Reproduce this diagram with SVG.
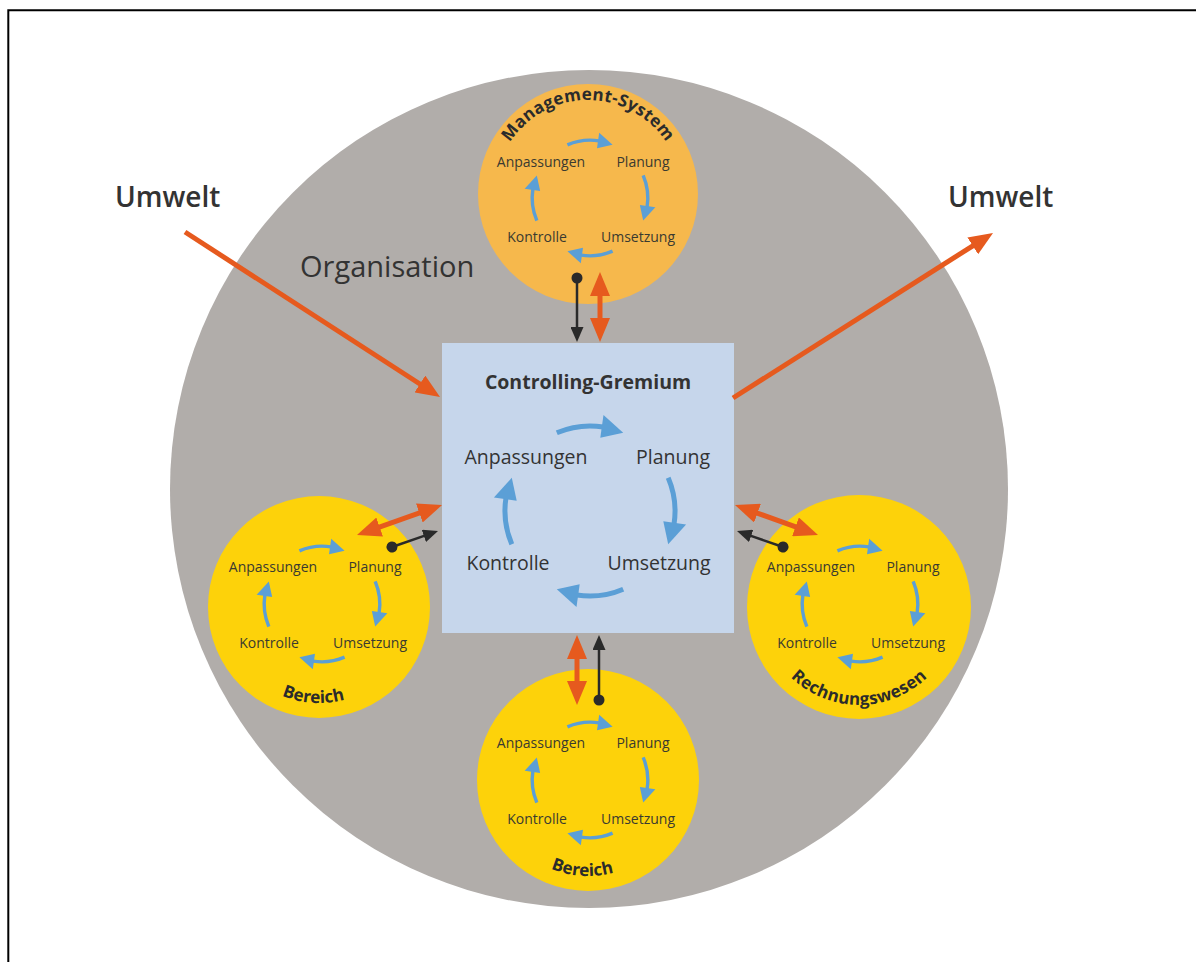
<svg xmlns="http://www.w3.org/2000/svg" xmlns:xlink="http://www.w3.org/1999/xlink" width="1196" height="962" viewBox="0 0 1196 962">
<style>
.t{font-family:"Open Sans","Noto Sans","Liberation Sans",sans-serif;fill:#333;}
.big{font-size:28px;font-weight:600;}
.org{font-size:29px;font-weight:500;}
.lab{font-size:19.5px;text-anchor:middle;}
.sl{font-size:14px;text-anchor:middle;fill:#3a3a30;}
.ttl{font-size:19.5px;font-weight:700;text-anchor:middle;}
.ct{font-size:17px;font-weight:700;text-anchor:middle;fill:#2b2b2b;}
.cl{fill:none;stroke:#5b9fd6;stroke-width:5;}
.ch{fill:#5b9fd6;}
.or{fill:none;stroke:#e65a1e;stroke-width:5;}
.bk{fill:none;stroke:#2a2a2a;stroke-width:2.5;}
</style>
<defs>
<marker id="mo" viewBox="0 0 24 20" markerWidth="24" markerHeight="20" refX="1" refY="10" orient="auto-start-reverse" markerUnits="userSpaceOnUse"><path d="M0,0 L24,10 L0,20 z" fill="#e65a1e"/></marker>
<marker id="mb" viewBox="0 0 15 13" markerWidth="15" markerHeight="13" refX="1" refY="6.5" orient="auto" markerUnits="userSpaceOnUse"><path d="M0,0 L15,6.5 L0,13 z" fill="#2a2a2a"/></marker>
<marker id="md" viewBox="0 0 12 12" markerWidth="12" markerHeight="12" refX="6" refY="6" orient="auto" markerUnits="userSpaceOnUse"><circle cx="6" cy="6" r="5.5" fill="#2a2a2a"/></marker>
<g id="ca"><path class="cl" d="M-33.2,-78.2 A85,85 0 0 1 13.3,-84"/><polygon class="ch" points="10.3,-73.3 33.2,-78.2 13.5,-96.1"/></g>
<g id="cyc"><use xlink:href="#ca"/><use xlink:href="#ca" transform="rotate(90)"/><use xlink:href="#ca" transform="rotate(180)"/><use xlink:href="#ca" transform="rotate(270)"/></g>
<path id="pMS" d="M495,193 A93,93 0 0 1 681,193"/>
<path id="pRW" d="M761,607 A98,98 0 0 0 957,607"/>
<path id="pBL" d="M223,607 A96,96 0 0 0 415,607"/>
<path id="pBB" d="M492,780 A96,96 0 0 0 684,780"/>
</defs>
<rect x="0" y="0" width="1196" height="962" fill="#fff"/>
<path d="M8.3,962 V10.3 H1196" fill="none" stroke="#000" stroke-width="2"/>
<g id="organisation">
<circle cx="589" cy="489" r="419" fill="#b1adaa"/>
<text class="t org" x="300" y="277">Organisation</text>
</g>
<g id="umwelt-left"><text class="t big" x="115" y="207">Umwelt</text></g>
<g id="umwelt-right"><text class="t big" x="948" y="207">Umwelt</text></g>
<g id="management-system">
<circle cx="588" cy="194" r="110" fill="#f6b84c"/>
<text class="t ct" letter-spacing="0.3"><textPath xlink:href="#pMS" startOffset="50%">Management-System</textPath></text>
<use xlink:href="#cyc" transform="translate(590,198) scale(0.68)"/>
<text class="t sl" x="541" y="167">Anpassungen</text>
<text class="t sl" x="643" y="167">Planung</text>
<text class="t sl" x="537" y="242">Kontrolle</text>
<text class="t sl" x="638" y="242">Umsetzung</text>
</g>
<g id="bereich-left">
<circle cx="319" cy="607" r="111" fill="#fdd20a"/>
<use xlink:href="#cyc" transform="translate(322,604) scale(0.68)"/>
<text class="t sl" x="273" y="572">Anpassungen</text>
<text class="t sl" x="375" y="572">Planung</text>
<text class="t sl" x="269" y="648">Kontrolle</text>
<text class="t sl" x="370" y="648">Umsetzung</text>
<text class="t ct"><textPath xlink:href="#pBL" startOffset="48%">Bereich</textPath></text>
</g>
<g id="rechnungswesen">
<circle cx="859" cy="607" r="112" fill="#fdd20a"/>
<use xlink:href="#cyc" transform="translate(860,604) scale(0.68)"/>
<text class="t sl" x="811" y="572">Anpassungen</text>
<text class="t sl" x="913" y="572">Planung</text>
<text class="t sl" x="807" y="648">Kontrolle</text>
<text class="t sl" x="908" y="648">Umsetzung</text>
<text class="t ct" letter-spacing="0.3"><textPath xlink:href="#pRW" startOffset="50%">Rechnungswesen</textPath></text>
</g>
<g id="bereich-bottom">
<circle cx="588" cy="780" r="111" fill="#fdd20a"/>
<use xlink:href="#cyc" transform="translate(590,780) scale(0.68)"/>
<text class="t sl" x="541" y="748">Anpassungen</text>
<text class="t sl" x="643" y="748">Planung</text>
<text class="t sl" x="537" y="824">Kontrolle</text>
<text class="t sl" x="638" y="824">Umsetzung</text>
<text class="t ct"><textPath xlink:href="#pBB" startOffset="48%">Bereich</textPath></text>
</g>
<g id="controlling-gremium">
<rect x="442" y="343" width="292" height="290" fill="#c6d6eb"/>
<text class="t ttl" x="588" y="389">Controlling-Gremium</text>
<use xlink:href="#cyc" transform="translate(590,511)"/>
<text class="t lab" x="526" y="464">Anpassungen</text>
<text class="t lab" x="673" y="464">Planung</text>
<text class="t lab" x="508" y="570">Kontrolle</text>
<text class="t lab" x="659" y="570">Umsetzung</text>
</g>
<g id="connectors">
<path class="or" d="M185,232 L420.7,384.5" marker-end="url(#mo)"/>
<path class="or" d="M733,398 L973.6,245.3" marker-end="url(#mo)"/>
<path class="or" d="M600,295 V319" marker-start="url(#mo)" marker-end="url(#mo)"/>
<path class="bk" d="M577,278 V328" marker-start="url(#md)" marker-end="url(#mb)"/>
<path class="or" d="M577,658 V682" marker-start="url(#mo)" marker-end="url(#mo)"/>
<path class="bk" d="M599,700 V649" marker-start="url(#md)" marker-end="url(#mb)"/>
<path class="or" d="M378.7,527.3 L420.3,512.7" marker-start="url(#mo)" marker-end="url(#mo)"/>
<path class="bk" d="M392,547 L424.8,535.6" marker-start="url(#md)" marker-end="url(#mb)"/>
<path class="or" d="M756.6,512.8 L796.4,527.2" marker-start="url(#mo)" marker-end="url(#mo)"/>
<path class="bk" d="M783,547 L750.2,535.6" marker-start="url(#md)" marker-end="url(#mb)"/>
</g>
</svg>
